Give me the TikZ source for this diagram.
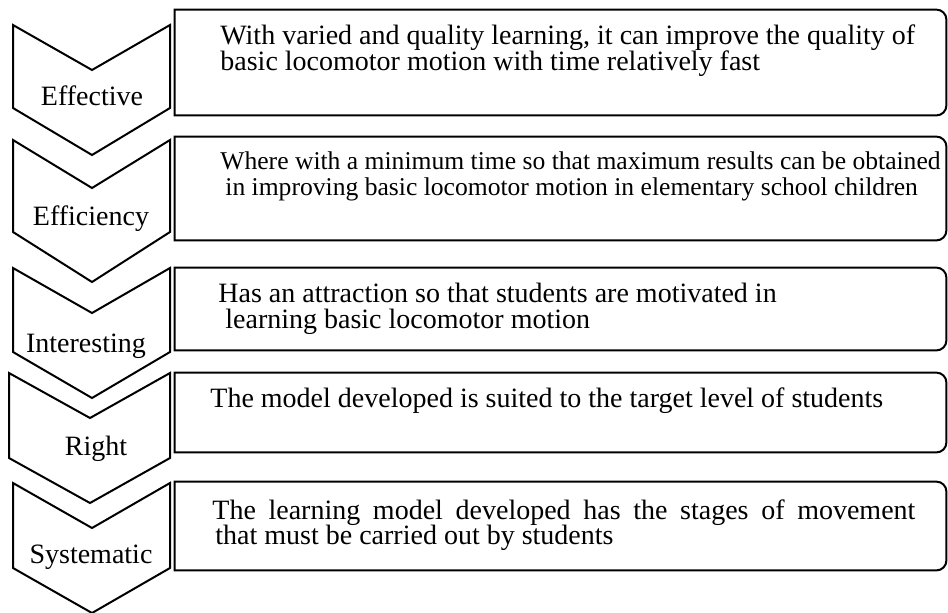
\documentclass[tikz,border=0pt]{standalone}
\usepackage{fontspec}
\setmainfont{Liberation Serif}

% outline of a text box: square on the left, rounded on the right
\newcommand{\boxoutline}[1]{%
    \draw [boxline] (#1.north west) -- ([xshift=-5pt]#1.north east)
        arc[start angle=90, end angle=0, radius=5pt] -- ([yshift=5pt]#1.south east)
        arc[start angle=0, end angle=-90, radius=5pt] -- (#1.south west) -- cycle;}
\newcommand{\tightlines}{\setlength{\lineskiplimit}{-20pt}}

\begin{document}
\begin{tikzpicture}[x=0.5pt, y=-0.5pt]

            \tikzset{
                chevron/.style = {line width=1pt, line join=miter},
                boxline/.style = {line width=1pt},
                box/.style = {rectangle, minimum width=385.5pt, inner sep=0pt},
                tag/.style = {anchor=base, inner sep=0pt, font=\fontsize{14}{16}\selectfont},
                desc/.style = {anchor=base west, align=left, inner sep=0pt, font=\tightlines\fontsize{14}{12.6}\selectfont}
            }

            \useasboundingbox (0,0) rectangle (948,612);

            % chevrons on the left
            \draw [chevron] (13,25) -- (92,70) -- (170,25) -- (170,108) -- (92,155) -- (13,108) -- cycle;
            \draw [chevron] (13,140) -- (92,188) -- (170,140) -- (170,232) -- (92,282) -- (13,232) -- cycle;
            \draw [chevron] (13,268) -- (92,313) -- (170,268) -- (170,352) -- (92,398) -- (13,352) -- cycle;
            \draw [chevron] (9,373) -- (90,418) -- (170,373) -- (170,458) -- (90,503) -- (9,458) -- cycle;
            \draw [chevron] (13,483) -- (92,528) -- (170,483) -- (170,568) -- (92,613) -- (13,568) -- cycle;

            \node (effective) [tag] at (92,105) {Effective};
            \node (efficiency) [tag] at (91,225) {Efficiency};
            \node (interesting) [tag] at (86,352) {Interesting};
            \node (rightlab) [tag] at (96,455) {Right};
            \node (systematic) [tag] at (91,563) {Systematic};

            % boxes on the right
            \node (b1) [box, minimum height=52.5pt] at (560.5,62.5) {};
            \node (b2) [box, minimum height=51.5pt] at (560.5,188.5) {};
            \node (b3) [box, minimum height=41pt] at (560.5,309) {};
            \node (b4) [box, minimum height=39.5pt] at (560.5,412.5) {};
            \node (b5) [box, minimum height=44pt] at (560.5,526) {};
            \boxoutline{b1}
            \boxoutline{b2}
            \boxoutline{b3}
            \boxoutline{b4}
            \boxoutline{b5}

            % two-line texts sit on the baseline of their last line (t5: of its first)
            \node (t1) [desc] at (220,70) {With varied and quality learning, it can improve the quality of\\basic locomotor motion with time relatively fast};
            \node (t2) [desc, font=\tightlines\fontsize{12.8}{12.6}\selectfont] at (220,195) {Where with a minimum time so that maximum results can be obtained\\\hspace*{2.5pt}in improving basic locomotor motion in elementary school children};
            \node (t3) [desc] at (218,328) {Has an attraction so that students are motivated in\\\hspace*{3.5pt}learning basic locomotor motion};
            \node (t4) [desc] at (210,407) {The model developed is suited to the target level of students};
            \node (t5) [desc, text width=351.5pt, align=justify] at (212,519) {The learning model developed has the stages of movement\linebreak\hspace*{1.5pt}that must be carried out by students};
        \end{tikzpicture}
\end{document}
